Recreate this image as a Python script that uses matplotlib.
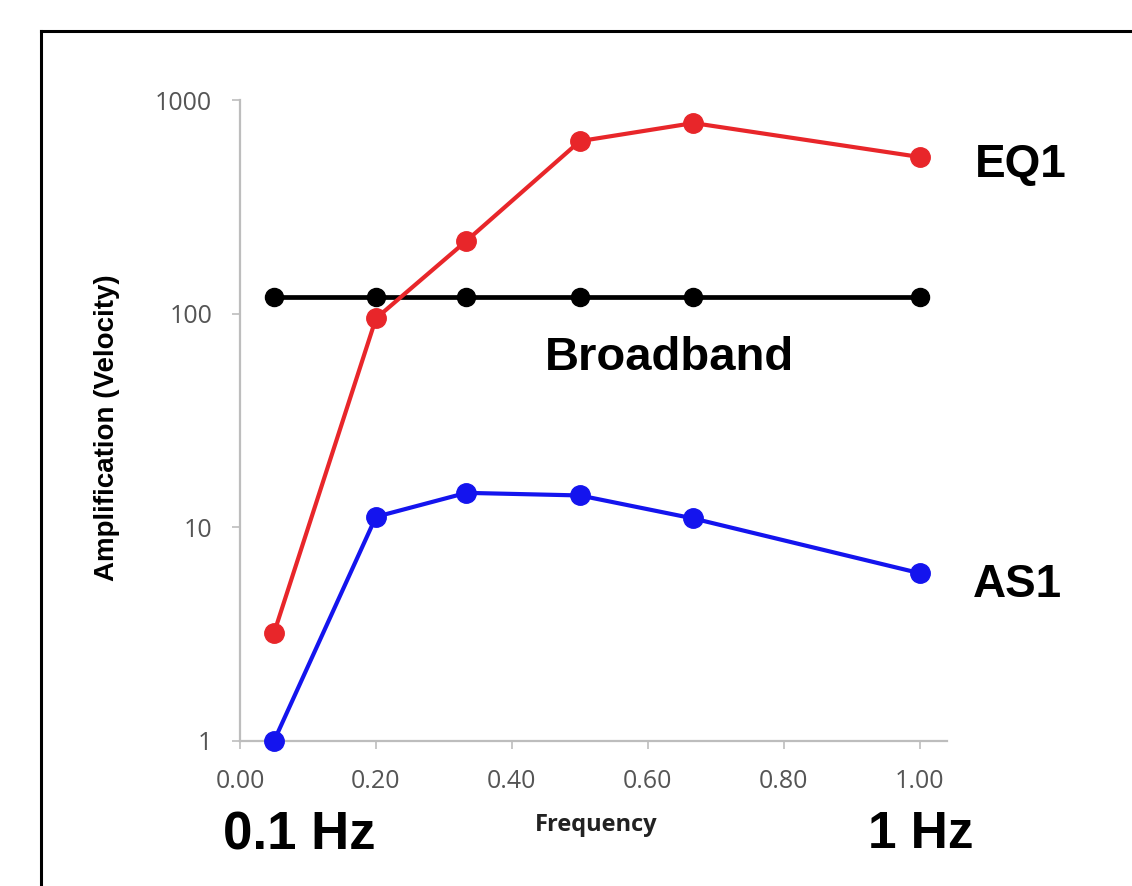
import numpy as np
import matplotlib
matplotlib.use("Agg")
import matplotlib.pyplot as plt
from matplotlib.lines import Line2D

# frequencies (Hz) and amplification factors per source
freq = [0.05, 0.20, 0.333, 0.50, 0.667, 1.00]
eq1 = [3.2, 95, 219, 642, 780, 541]
broadband = [120, 120, 120, 120, 120, 120]
as1 = [1.0, 11.2, 14.5, 14.1, 11.0, 6.1]

xticks = [0.0, 0.2, 0.4, 0.6, 0.8, 1.0]
yticks = [1, 10, 100, 1000]

W, H = 1132, 886
fig = plt.figure(figsize=(W / 100, H / 100), dpi=100)
fig.patch.set_facecolor("white")

def fx(px):
    return px / W

def fy(py):
    return 1 - py / H

ax = fig.add_axes([fx(240), fy(741), fx(947) - fx(240), fy(100) - fy(741)])

ax.plot(freq, broadband, color="black", lw=3.4, marker="o", ms=13, zorder=3)
ax.plot(freq, eq1, color="#e8262a", lw=3.0, marker="o", ms=14, zorder=4)
ax.plot(freq, as1, color="#1414ee", lw=3.0, marker="o", ms=14, zorder=4)

ax.set_yscale("log")
ax.set_ylim(1, 1000)
ax.set_xlim(0, 1.04)
ax.set_xticks(xticks)
ax.set_xticklabels([f"{t:.2f}" for t in xticks])
ax.set_yticks(yticks)
ax.set_yticklabels([str(t) for t in yticks])
ax.yaxis.set_minor_locator(matplotlib.ticker.NullLocator())

grey = "#bdbdbd"
for s in ["top", "right"]:
    ax.spines[s].set_visible(False)
for s in ["left", "bottom"]:
    ax.spines[s].set_color(grey)
    ax.spines[s].set_linewidth(1.6)
ax.tick_params(direction="out", length=6, width=1.2, color=grey,
               labelsize=18, labelcolor="#555555")
ax.tick_params(axis="y", pad=14)
ax.tick_params(axis="x", pad=14)
for lab in ax.get_xticklabels() + ax.get_yticklabels():
    lab.set_family("Open Sans")
for ln in ax.lines:
    ln.set_clip_on(False)

# axis titles
fig.text(fx(596), fy(825), "Frequency", ha="center", va="center",
         fontsize=17, fontweight="bold", family="Open Sans", color="#222222")
fig.text(fx(107), fy(428), "Amplification (Velocity)", ha="center", va="center",
         rotation=90, fontsize=20, fontweight="bold", family="Liberation Sans")

# series labels
big = dict(ha="center", va="center", fontweight="bold", family="Liberation Sans")
fig.text(fx(1021), fy(165), "EQ1", fontsize=33, **big)
fig.text(fx(669), fy(358), "Broadband", fontsize=34, **big)
fig.text(fx(1017), fy(585), "AS1", fontsize=33, **big)
fig.text(fx(299), fy(835), "0.1 Hz", fontsize=38, **big)
fig.text(fx(921), fy(835), "1 Hz", fontsize=37, **big)

# frame around the panel
fig.add_artist(Line2D([fx(41), fx(41)], [0, fy(31)], color="black", lw=2.2))
fig.add_artist(Line2D([fx(41), 1], [fy(31), fy(31)], color="black", lw=2.2))

fig.savefig("out.png", dpi=100)
